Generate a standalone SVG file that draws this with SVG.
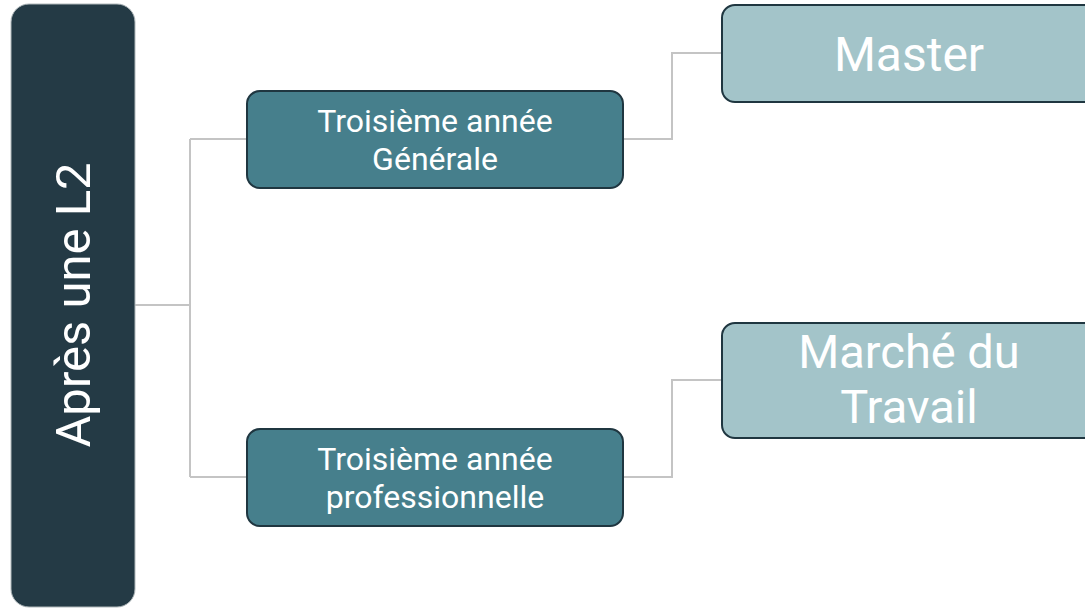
<svg xmlns="http://www.w3.org/2000/svg" width="1085" height="608" viewBox="0 0 1085 608">
<style>
.conn{fill:none;stroke:#c4c4c4;stroke-width:2}
.t{font-family:Roboto,"Liberation Sans",sans-serif;fill:#ffffff;text-anchor:middle}
.mid{fill:#467f8c;stroke:#1f3640;stroke-width:2}
.leaf{fill:#a3c4c9;stroke:#1f3640;stroke-width:2}
</style>
<rect width="1085" height="608" fill="#ffffff"/>
<g id="connectors">
<path class="conn" d="M135 305 H190 M190 139 V477 M190 139 H247 M190 477 H247"/>
<path class="conn" d="M623 139 H672 V53 H722"/>
<path class="conn" d="M623 477 H672 V380 H722"/>
</g>
<g id="root">
<rect x="11" y="4" width="124" height="603" rx="18" fill="#243a45" stroke="#b0b8bb" stroke-width="1"/>
<text class="t" transform="translate(90 305) rotate(-90)" x="0" y="0" font-size="49">Après une L2</text>
</g>
<g id="n-generale">
<rect class="mid" x="247" y="91" width="376" height="97" rx="13"/>
<text class="t" font-size="32" x="435" y="132">Troisième année</text>
<text class="t" font-size="32" x="435" y="170">Générale</text>
</g>
<g id="n-pro">
<rect class="mid" x="247" y="429" width="376" height="97" rx="13"/>
<text class="t" font-size="32" x="435" y="470">Troisième année</text>
<text class="t" font-size="32" x="435" y="508">professionnelle</text>
</g>
<g id="n-master">
<rect class="leaf" x="722" y="5" width="376" height="97" rx="13"/>
<text class="t" font-size="48" x="909" y="71">Master</text>
</g>
<g id="n-marche">
<rect class="leaf" x="722" y="323" width="376" height="115" rx="13"/>
<text class="t" font-size="47" x="909" y="368">Marché du</text>
<text class="t" font-size="47" x="909" y="423">Travail</text>
</g>
</svg>
